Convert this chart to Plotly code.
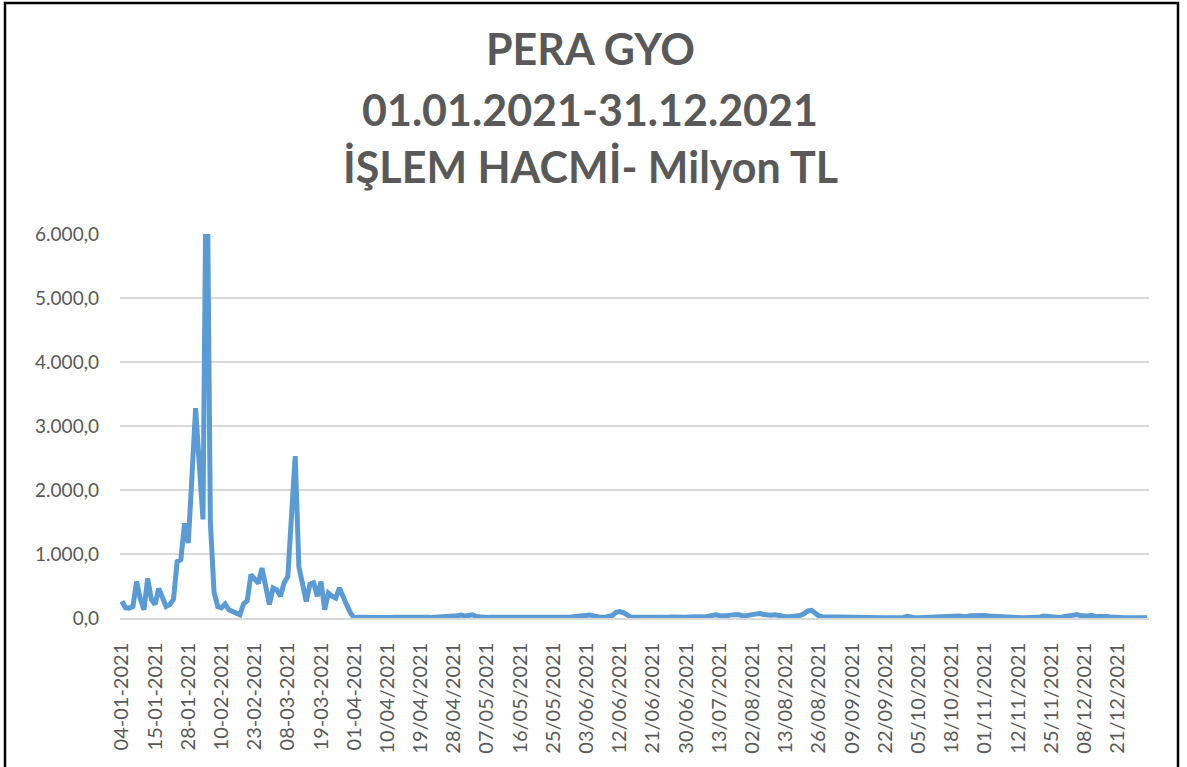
import plotly.graph_objects as go

# Daily trading volume (million TL), one value per trading-day category
q1_values = [
    260, 160, 155, 180, 570, 300, 130, 620, 290, 210,
    460, 340, 180, 210, 290, 880, 910, 1480, 1170, 2200,
    3280, 2400, 1540, 8000, 1500, 400, 180, 160, 220, 130,
    110, 80, 50, 220, 270, 680, 620, 540, 780, 480,
    210, 470, 440, 340, 550, 650, 1540, 2530, 800, 500,
    260, 530, 550, 340, 570, 130, 390, 340, 310, 470,
    310, 200, 80, 0,
]
rest_values = [
    10, 8, 10, 12, 9, 10, 11, 8, 10, 9,
    10, 12, 9, 8, 10, 11, 10, 9, 12, 10,
    8, 10, 9, 11, 10, 12, 20, 35, 45, 30,
    40, 50, 25, 15, 10, 8, 12, 10, 9, 11,
    10, 8, 10, 12, 9, 10, 11, 10, 9, 12,
    10, 15, 20, 12, 10, 9, 11, 10, 15, 25,
    30, 20, 35, 45, 30, 15, 10, 12, 20, 40,
    90, 100, 85, 40, 15, 12, 10, 11, 9, 10,
    12, 10, 9, 10, 11, 15, 10, 9, 12, 10,
    15, 20, 30, 20, 15, 25, 35, 50, 40, 30,
    35, 45, 50, 55, 40, 30, 45, 60, 65, 70,
    55, 40, 45, 50, 35, 25, 20, 18, 20, 25,
    40, 70, 110, 120, 80, 30, 20, 18, 20, 15,
    18, 20, 16, 15, 18, 20, 15, 12, 8, 3,
    2, 3, 2, 4, 3, 2, 3, 5, 8, 25,
    8, 4, 3, 5, 15, 25, 20, 30, 25, 35,
    30, 25, 35, 30, 25, 20, 35, 40, 30, 35,
    40, 30, 25, 35, 30, 15, 10, 5, 4, 3,
    3, 5, 4, 3, 8, 15, 30, 20, 10, 5,
    8, 15, 30, 45, 50, 55, 35, 25, 30, 40,
    20, 25, 30, 25, 15, 8, 5, 4, 3, 5,
    4, 3, 2, 3, 2,
]
values = q1_values + rest_values

# Category tick labels (every 9th category is labelled)
tick_labels = [
    "04-01-2021", "15-01-2021", "28-01-2021", "10-02-2021", "23-02-2021",
    "08-03-2021", "19-03-2021", "01-04-2021", "10/04/2021", "19/04/2021",
    "28/04/2021", "07/05/2021", "16/05/2021", "25/05/2021", "03/06/2021",
    "12/06/2021", "21/06/2021", "30/06/2021", "13/07/2021", "02/08/2021",
    "13/08/2021", "26/08/2021", "09/09/2021", "22/09/2021", "05/10/2021",
    "18/10/2021", "01/11/2021", "12/11/2021", "25/11/2021", "08/12/2021",
    "21/12/2021",
]
label_step = 9

y_tick_vals = [0, 1000, 2000, 3000, 4000, 5000, 6000]
y_tick_text = ["0,0", "1.000,0", "2.000,0", "3.000,0", "4.000,0", "5.000,0", "6.000,0"]

title_lines = ["PERA GYO", "01.01.2021-31.12.2021", "İŞLEM HACMİ- Milyon TL"]

n = len(values)
x = list(range(n))

W, H = 1187, 767
# target plot area in page pixels: x 120..1149, y 234..618
L, T = 120, 234
pw, ph = 1029, 384
R = W - L - pw
B = H - T - ph


def px_to_paper(px, py):
    return (px - L) / pw, (T + ph - py) / ph


fig = go.Figure()
fig.add_trace(go.Scatter(
    x=x, y=values, mode="lines",
    line=dict(color="#5b9bd5", width=5, shape="linear"),
    hoverinfo="y",
))

grey = "#595959"
fig.update_layout(
    width=W, height=H,
    margin=dict(l=L, r=R, t=T, b=B, pad=0, autoexpand=False),
    paper_bgcolor="white", plot_bgcolor="white",
    showlegend=False,
    font=dict(family="Lato, 'Open Sans', sans-serif", color=grey),
)
fig.update_xaxes(
    range=[-0.5, n - 0.5],
    tickmode="array",
    tickvals=[i * label_step for i in range(len(tick_labels))],
    ticktext=tick_labels,
    tickangle=-90,
    tickfont=dict(size=20, color=grey, family="Lato"),
    ticks="", showgrid=False, zeroline=False,
    showline=True, linecolor="#d9d9d9", linewidth=1.5,
    ticklabelstandoff=15,
)
fig.update_yaxes(
    range=[0, 6000],
    tickmode="array", tickvals=y_tick_vals, ticktext=y_tick_text,
    tickfont=dict(size=19, color=grey, family="Lato"),
    showgrid=True, gridcolor="#d9d9d9", gridwidth=1.5,
    zeroline=False, showline=False, ticks="",
    ticklabelstandoff=20,
)

# title lines (page pixel centres)
title_centers = [(590, 48), (590, 110), (590, 167)]
for text, (cx, cy) in zip(title_lines, title_centers):
    ax, ay = px_to_paper(cx, cy)
    fig.add_annotation(
        text=f"<b>{text}</b>", x=ax, y=ay, xref="paper", yref="paper",
        xanchor="center", yanchor="middle", showarrow=False,
        font=dict(family="Lato", size=43, color=grey),
    )

# chart frame
x0, y1 = px_to_paper(5, 3)
x1, y0 = px_to_paper(1178, 800)
fig.add_shape(type="rect", xref="paper", yref="paper",
              x0=x0, x1=x1, y0=y0, y1=y1,
              line=dict(color="#000000", width=2.5), layer="above")

fig.write_html(
    "out.html",
    config={"displayModeBar": False},
    post_script="document.body.style.margin='0';document.body.style.overflow='hidden';",
)
